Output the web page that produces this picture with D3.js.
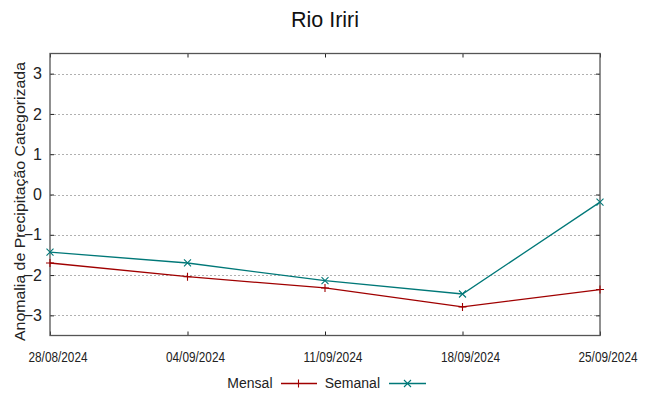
<!DOCTYPE html>
<html><head><meta charset="utf-8">
<script src="https://cdn.jsdelivr.net/npm/d3@7"></script>
<style>body{margin:0;background:#fff}svg{display:block;font-family:"Liberation Sans",Arial,sans-serif}</style>
</head><body><svg id="c" width="649" height="396"></svg>
<script>
const dates = ["28/08/2024","04/09/2024","11/09/2024","18/09/2024","25/09/2024"];
const mensal = [-1.70,-2.04,-2.32,-2.79,-2.36];
const semanal = [-1.43,-1.70,-2.14,-2.47,-0.19];
const yTicks = [-3,-2,-1,0,1,2,3];
const title = "Rio Iriri";
const yLabel = "Anomalia de Precipitação Categorizada";
const seriesNames = ["Mensal","Semanal"];
const seriesColors = ["#a00000","#007878"];

const parse = d3.timeParse("%d/%m/%Y");
const svg = d3.select("#c");
const L=50,R=600,T=53.5,B=335.5;
const x = d3.scaleTime().domain([parse(dates[0]),parse(dates[dates.length-1])]).range([L,R]);
const y = d3.scaleLinear().domain([-3.5,3.5]).range([B,T]);

svg.append("text").attr("x",325).attr("y",27).attr("text-anchor","middle")
  .attr("font-size",21.5).attr("fill","#111").text(title);

// grid
svg.append("g").selectAll("line").data(yTicks).join("line")
  .attr("x1",L).attr("x2",R).attr("y1",d=>Math.round(y(d))+0.5).attr("y2",d=>Math.round(y(d))+0.5)
  .attr("stroke","#b0b0b0").attr("stroke-width",1).attr("stroke-dasharray","2,2");

// axes
const yAxL = svg.append("g").attr("transform",`translate(${L},0)`)
  .call(d3.axisLeft(y).tickValues(yTicks).tickSize(-4).tickPadding(8).tickFormat(d3.format("d")));
const yAxR = svg.append("g").attr("transform",`translate(${R},0)`)
  .call(d3.axisRight(y).tickValues(yTicks).tickSize(-4).tickFormat(""));
const xAxB = svg.append("g").attr("transform",`translate(0,${B})`)
  .call(d3.axisBottom(x).tickValues(dates.map(parse)).tickSize(-4).tickFormat(d3.timeFormat("%d/%m/%Y")));
const xAxT = svg.append("g").attr("transform",`translate(0,${T})`)
  .call(d3.axisTop(x).tickValues(dates.map(parse)).tickSize(-4).tickFormat(""));
[yAxL,yAxR,xAxB,xAxT].forEach(g=>{g.select(".domain").remove();g.selectAll("line").attr("stroke","#222");});
yAxL.selectAll("text").attr("font-size",16).attr("fill","#222").attr("font-family","Liberation Sans, Arial");
xAxB.selectAll("text").attr("font-size",14).attr("fill","#222").attr("font-family","Liberation Sans, Arial")
  .attr("x",7.5).attr("y",26).attr("dy",null).attr("textLength",59).attr("lengthAdjust","spacingAndGlyphs");

svg.append("rect").attr("x",L).attr("y",T).attr("width",R-L).attr("height",B-T)
  .attr("fill","none").attr("stroke","#555").attr("stroke-width",1.3);

svg.append("text").attr("transform",`translate(24.5,341) rotate(-90)`)
  .attr("text-anchor","start").attr("font-size",15.3).attr("fill","#222")
  .attr("textLength",279).attr("lengthAdjust","spacingAndGlyphs").text(yLabel);

const line = d3.line().x((d,i)=>x(parse(dates[i]))).y(d=>y(d));
const plus = (g,cx,cy,c)=>g.append("path").attr("d",`M${cx-4},${cy}H${cx+4}M${cx},${cy-4}V${cy+4}`).attr("stroke",c).attr("stroke-width",1.1).attr("fill","none");
const cross = (g,cx,cy,c)=>g.append("path").attr("d",`M${cx-3.5},${cy-3.5}L${cx+3.5},${cy+3.5}M${cx-3.5},${cy+3.5}L${cx+3.5},${cy-3.5}`).attr("stroke",c).attr("stroke-width",1.1).attr("fill","none");
const markers=[plus,cross];
[mensal,semanal].forEach((s,k)=>{
  const g=svg.append("g");
  g.append("path").datum(s).attr("d",line).attr("fill","none").attr("stroke",seriesColors[k]).attr("stroke-width",1.3);
  s.forEach((v,i)=>markers[k](g,x(parse(dates[i])),y(v),seriesColors[k]));
});

// legend
const lg = svg.append("g");
const legX=[[272.5,281,317,298.5],[380,389,426,407.5]];
seriesNames.forEach((n,k)=>{
  const [tx,x1,x2,mx]=legX[k];
  lg.append("text").attr("x",tx).attr("y",388).attr("text-anchor","end").attr("font-size",14).attr("fill","#222").text(n);
  lg.append("line").attr("x1",x1).attr("x2",x2).attr("y1",383.5).attr("y2",383.5).attr("stroke",seriesColors[k]).attr("stroke-width",1.3);
  markers[k](lg,mx,383.5,seriesColors[k]);
});
</script></body></html>
